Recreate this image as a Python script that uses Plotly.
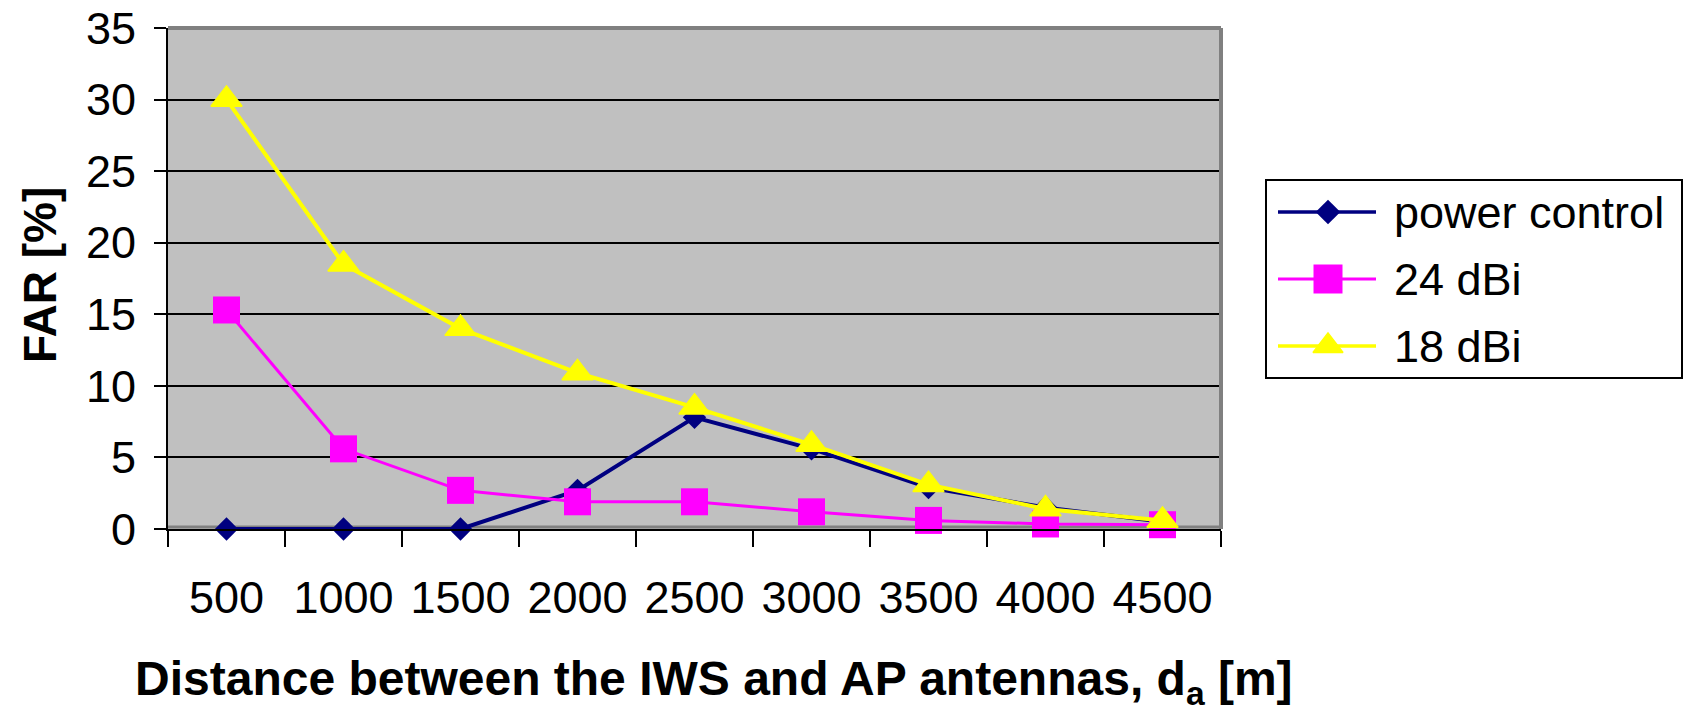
import plotly.graph_objects as go

# Antenna separation (m) and false alarm rate (%) for each configuration
distances = ["500", "1000", "1500", "2000", "2500", "3000", "3500", "4000", "4500"]
far_power_control = [0, 0, 0, 2.7, 7.8, 5.6, 2.9, 1.5, 0.5]
far_24dbi = [15.3, 5.6, 2.7, 1.9, 1.9, 1.2, 0.6, 0.35, 0.3]
far_18dbi = [30, 18.5, 14, 10.9, 8.5, 5.9, 3.1, 1.4, 0.6]

y_ticks = [0, 5, 10, 15, 20, 25, 30, 35]

series_names = ["power control", "24 dBi", "18 dBi"]
series_colors = ["#000080", "#FF00FF", "#FFFF00"]
series_symbols = ["diamond", "square", "triangle-up"]
series_values = [far_power_control, far_24dbi, far_18dbi]

FONT = "Liberation Sans, Arial, sans-serif"

# Page geometry (px)
W, H = 1690, 709
L, R, T, B = 168, 0, 28, 180
PW, PH = W - L - R, H - T - B
PLOT_RIGHT = 1221            # right edge of the chart area
LEG_X0, LEG_X1 = 1266, 1682  # legend box, in page pixels
LEG_Y0, LEG_Y1 = 180, 378


def px_x(x):
    return (x - L) / PW


def px_y(y):
    return (H - B - y) / PH


marker_sizes = [18, 27, 27]
marker_outline = [0, 0, 1.5]
line_widths = [4, 3, 4]

fig = go.Figure()

for name, vals, col, sym, ms, mo, lw in zip(series_names, series_values, series_colors,
                                            series_symbols, marker_sizes, marker_outline,
                                            line_widths):
    fig.add_trace(go.Scatter(
        x=distances, y=vals, name=name,
        mode="lines+markers", cliponaxis=False,
        line=dict(color=col, width=lw),
        marker=dict(symbol=sym, size=ms, color=col, line=dict(color=col, width=mo)),
        showlegend=False,
        xaxis="x", yaxis="y",
    ))

# Legend drawn on an overlay axis measured in page pixels
leg_rows_y = [212, 279, 346]
leg_line_x = (1278, 1376)
leg_marker_x = 1328
leg_text_x = 1392
leg_marker_sizes = [19, 29, 26]
leg_line_widths = [3.5, 3, 3.5]

fig.add_shape(type="rect", xref="x2", yref="y2",
              x0=LEG_X0, x1=LEG_X1, y0=LEG_Y0, y1=LEG_Y1,
              line=dict(color="black", width=2), fillcolor="white", layer="below")

for i, (name, col, sym) in enumerate(zip(series_names, series_colors, series_symbols)):
    yy = leg_rows_y[i]
    fig.add_shape(type="line", xref="x2", yref="y2",
                  x0=leg_line_x[0], x1=leg_line_x[1], y0=yy, y1=yy,
                  line=dict(color=col, width=leg_line_widths[i]), layer="above")
    fig.add_trace(go.Scatter(
        x=[leg_marker_x], y=[yy], mode="markers", cliponaxis=False,
        marker=dict(symbol=sym, size=leg_marker_sizes[i], color=col,
                    line=dict(color=col, width=marker_outline[i])),
        showlegend=False, hoverinfo="skip",
        xaxis="x2", yaxis="y2",
    ))
    fig.add_annotation(text=name, xref="x2", yref="y2", x=leg_text_x, y=yy,
                       xanchor="left", yanchor="middle", showarrow=False,
                       font=dict(family=FONT, size=45, color="black"))

# Grey chart-area fill and frame
fig.add_shape(type="rect", xref="x domain", yref="y domain", x0=0, x1=1, y0=0, y1=1,
              line=dict(width=0), fillcolor="#C0C0C0", layer="below")
fig.add_shape(type="line", xref="x domain", yref="y domain", x0=0, x1=1, y0=1, y1=1,
              line=dict(color="#808080", width=4), layer="above")
fig.add_shape(type="line", xref="x domain", yref="y domain", x0=1, x1=1, y0=0, y1=1,
              line=dict(color="#808080", width=4), layer="above")
fig.add_shape(type="line", xref="x domain", yref="y domain", x0=0, x1=1, y0=0.004, y1=0.004,
              line=dict(color="#808080", width=3), layer="below")

# Axis titles
fig.add_annotation(
    text="<b>Distance between the IWS and AP antennas, d<sub>a</sub> [m]</b>",
    xref="paper", yref="paper", x=px_x(714), y=px_y(682),
    xanchor="center", yanchor="middle", showarrow=False,
    font=dict(family=FONT, size=48, color="black"),
)
fig.add_annotation(
    text="<b>FAR [%]</b>", textangle=-90,
    xref="paper", yref="paper", x=px_x(40), y=px_y(275),
    xanchor="center", yanchor="middle", showarrow=False,
    font=dict(family=FONT, size=46, color="black"),
)

fig.update_layout(
    width=W, height=H,
    margin=dict(l=L, r=R, t=T, b=B),
    paper_bgcolor="white",
    plot_bgcolor="white",
    font=dict(family=FONT, size=45, color="black"),
    showlegend=False,
    xaxis=dict(
        domain=[0, px_x(PLOT_RIGHT)],
        type="category",
        range=[-0.5, len(distances) - 0.5],
        tickson="boundaries",
        ticks="outside", ticklen=16, tickwidth=2, tickcolor="black",
        showgrid=False,
        showline=True, linecolor="black", linewidth=2,
        ticklabelstandoff=28,
        tickfont=dict(family=FONT, size=45, color="black"),
        zeroline=False, automargin=False, fixedrange=True,
    ),
    yaxis=dict(
        range=[0, 35],
        tickvals=y_ticks,
        ticks="outside", ticklen=12, tickwidth=2, tickcolor="black",
        showgrid=True, gridcolor="black", gridwidth=2,
        showline=True, linecolor="black", linewidth=2,
        zeroline=False,
        ticklabelstandoff=9,
        tickfont=dict(family=FONT, size=45, color="black"),
        automargin=False, fixedrange=True,
    ),
    xaxis2=dict(
        domain=[px_x(LEG_X0 - 2), px_x(LEG_X1 + 2)],
        range=[LEG_X0 - 2, LEG_X1 + 2],
        anchor="y2", visible=False, fixedrange=True,
    ),
    yaxis2=dict(
        domain=[px_y(LEG_Y1 + 2), px_y(LEG_Y0 - 2)],
        range=[LEG_Y1 + 2, LEG_Y0 - 2],
        anchor="x2", visible=False, fixedrange=True,
    ),
)

fig.write_html("out.html")
